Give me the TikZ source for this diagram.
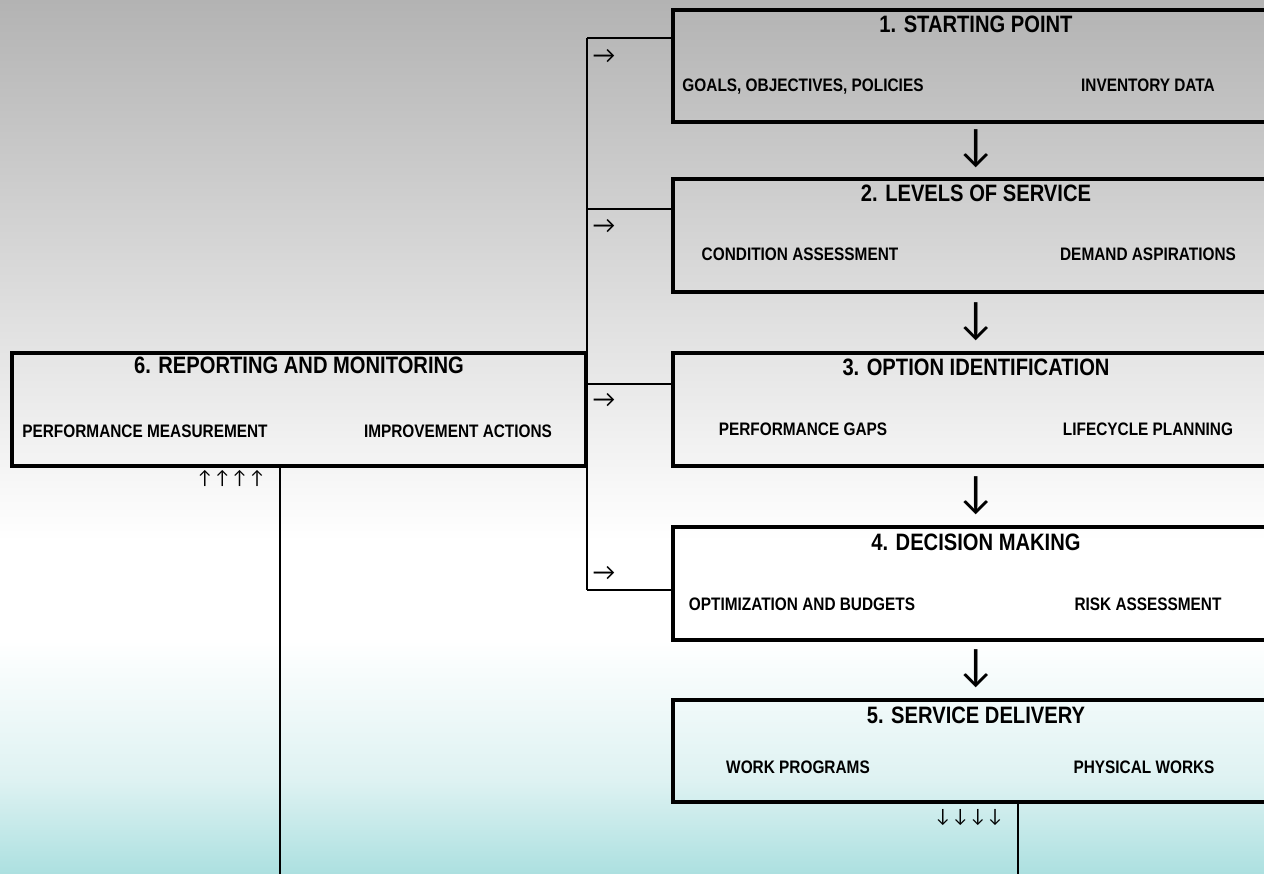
\documentclass[tikz,border=0pt]{standalone}
\usepackage{fontspec}
\setmainfont{Liberation Sans}[FakeStretch=0.85]
\newfontfamily\arrowfont{Carlito}
\usetikzlibrary{positioning}

\definecolor{bgtop}{HTML}{B3B3B3}
\definecolor{bgmid}{HTML}{DEF2F2}
\definecolor{bgbot}{HTML}{ACE0E0}

\tikzset{
  stage/.style={draw, line width=2.3pt, inner sep=0pt},
  title/.style={font=\fontsize{13.5}{16}\selectfont\bfseries, anchor=base, inner sep=0pt},
  item/.style={font=\fontsize{10.3}{12}\selectfont\bfseries, anchor=base, inner sep=0pt},
  link/.style={line width=1.1pt},
  bigdown/.style={font=\arrowfont\fontsize{26}{28}\selectfont, inner sep=0pt},
  feed/.style={font=\arrowfont\fontsize{14}{16}\selectfont, inner sep=0pt},
  tick/.style={font=\arrowfont\fontsize{11}{13}\selectfont, inner sep=0pt}
}

\begin{document}
\begin{tikzpicture}[x=0.02cm, y=-0.02cm]
\useasboundingbox (0,0) rectangle (1264,874);
\clip (0,0) rectangle (1264,874);

% background
\shade[top color=bgtop, bottom color=white] (0,0) rectangle (1264,541);
\fill[white] (0,540) rectangle (1264,641);
\shade[top color=white, bottom color=bgmid] (0,640) rectangle (1264,781);
\shade[top color=bgmid, bottom color=bgbot] (0,780) rectangle (1264,874);

% stages on the right
\node[stage, minimum width=13cm, minimum height=2.24cm] (start) at (998,66) {};
\node[stage, minimum width=13cm, minimum height=2.26cm] (levels) at (998,235.5) {};
\node[stage, minimum width=13cm, minimum height=2.26cm] (options) at (998,409.5) {};
\node[stage, minimum width=13cm, minimum height=2.26cm] (decide) at (998,583.5) {};
\node[stage, minimum width=13cm, minimum height=2.04cm] (deliver) at (998,751) {};
% reporting stage on the left
\node[stage, minimum width=11.48cm, minimum height=2.26cm] (report) at (299,409.5) {};

\node[title] (start-t) at (976,33) {1. STARTING POINT};
\node[item] (start-a) at (803,92) {GOALS, OBJECTIVES, POLICIES};
\node[item] (start-b) at (1148,92) {INVENTORY DATA};

\node[title] (levels-t) at (976,202) {2. LEVELS OF SERVICE};
\node[item] (levels-a) at (800,261) {CONDITION ASSESSMENT};
\node[item] (levels-b) at (1148,261) {DEMAND ASPIRATIONS};

\node[title] (options-t) at (976,376) {3. OPTION IDENTIFICATION};
\node[item] (options-a) at (803,436) {PERFORMANCE GAPS};
\node[item] (options-b) at (1148,436) {LIFECYCLE PLANNING};

\node[title] (decide-t) at (976,550) {4. DECISION MAKING};
\node[item] (decide-a) at (802,610) {OPTIMIZATION AND BUDGETS};
\node[item] (decide-b) at (1148,610) {RISK ASSESSMENT};

\node[title] (deliver-t) at (976,723) {5. SERVICE DELIVERY};
\node[item] (deliver-a) at (798,773) {WORK PROGRAMS};
\node[item] (deliver-b) at (1144,773) {PHYSICAL WORKS};

\node[title] (report-t) at (299,374) {6. REPORTING AND MONITORING};
\node[item] (report-a) at (145,438) {PERFORMANCE MEASUREMENT};
\node[item] (report-b) at (458,438) {IMPROVEMENT ACTIONS};

% down arrows between stages
\node[bigdown] (down1) at (976,149) {↓};
\node[bigdown] (down2) at (976,322) {↓};
\node[bigdown] (down3) at (976,496) {↓};
\node[bigdown] (down4) at (976,669) {↓};

% feedback bus
\coordinate (bus1) at (587,38);
\coordinate (bus2) at (587,209);
\coordinate (bus3) at (587,384);
\coordinate (bus4) at (587,590);
\draw[link] (bus1) -- (bus4);
\draw[link] (bus1) -- (bus1 -| start.west);
\draw[link] (bus2) -- (bus2 -| levels.west);
\draw[link] (bus3) -- (bus3 -| options.west);
\draw[link] (bus4) -- (bus4 -| decide.west);
\node[feed] (in1) at (604,56) {→};
\node[feed] (in2) at (604,226) {→};
\node[feed] (in3) at (604,400) {→};
\node[feed] (in4) at (604,573) {→};

% feet
\coordinate (report-foot) at (280,874);
\coordinate (deliver-foot) at (1018,874);
\draw[link] (report.south -| report-foot) -- (report-foot);
\draw[link] (deliver.south -| deliver-foot) -- (deliver-foot);
\node[tick] (ups) at (231,478) {↑↑↑↑};
\node[tick] (downs) at (969,818) {↓↓↓↓};
\end{tikzpicture}
\end{document}
